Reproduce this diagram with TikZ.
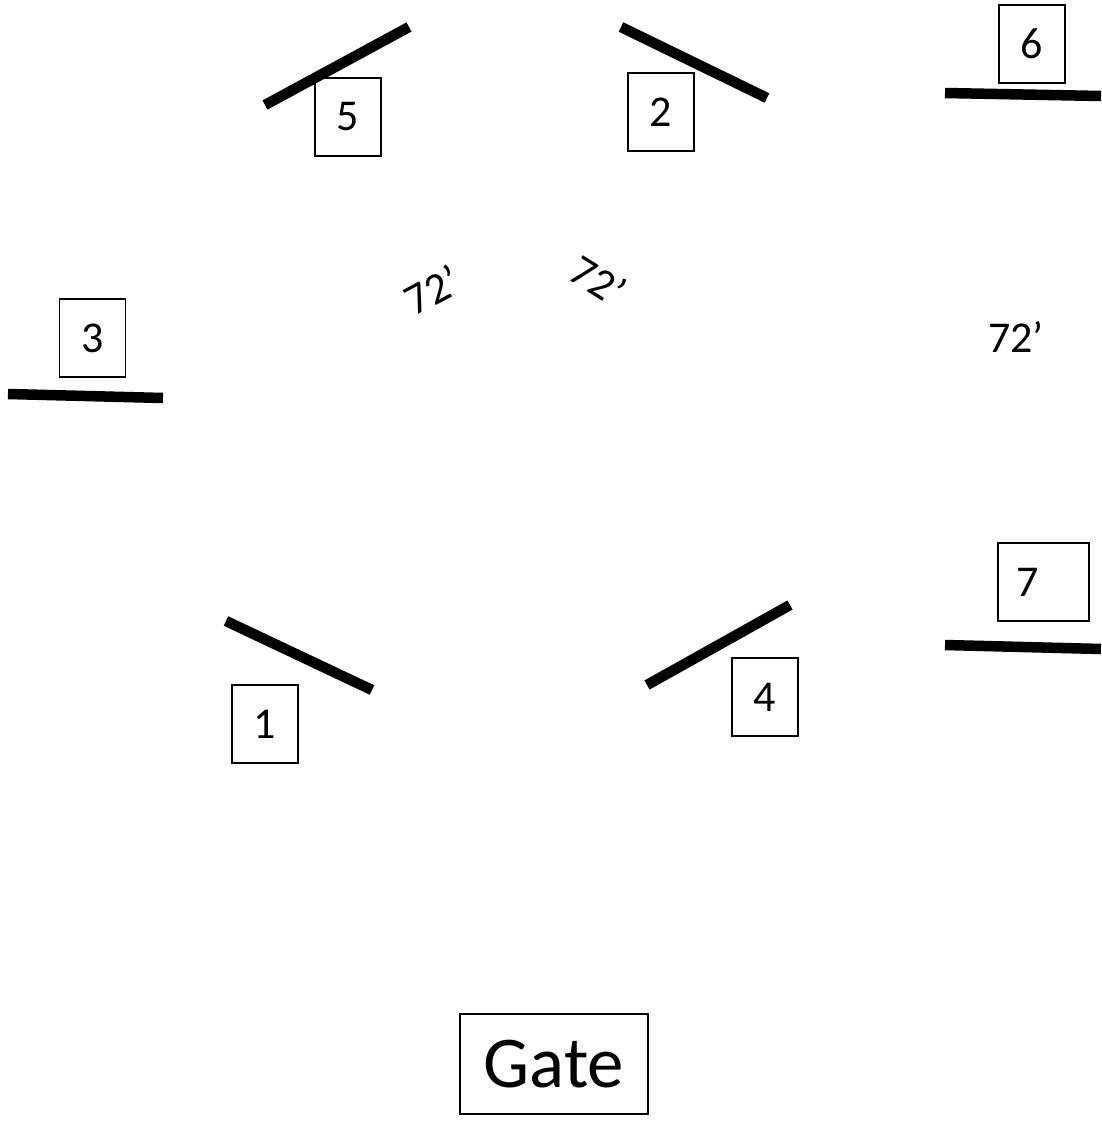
\documentclass[tikz,border=0pt]{standalone}
\usepackage{fontspec}
\setmainfont{Carlito}
\begin{document}
\begin{tikzpicture}[x=1pt,y=-1pt,
  numbox/.style={draw=black,line width=1.3pt,minimum width=66pt,minimum height=78pt,inner sep=0pt,font=\fontsize{44}{50}\selectfont},
  bar/.style={line width=10.5pt,black},
  dist/.style={font=\fontsize{44}{50}\selectfont,inner sep=0pt}]
\useasboundingbox (0,0) rectangle (1101,1124);
% boxes
\node[numbox] (b5) at (348,117) {5};
\node[numbox] (b2) at (661,112) {2};
\node[numbox] (b6) at (1032,44) {6};
\node[numbox] (b3) at (92.5,338) {3};
\node[numbox] (b1) at (265,724) {1};
\node[numbox] (b4) at (765,697) {4};
\node[numbox,minimum width=91pt] (b7) at (1043.5,582) {7\hspace*{31pt}};
\node[draw=black,line width=1.3pt,minimum width=188pt,minimum height=100pt,inner sep=0pt,font=\fontsize{73}{80}\selectfont] (gate) at (554,1064) {Gate};
% bars
\draw[bar] (265,105) -- (409,27);
\draw[bar] (621,27) -- (767,98);
\draw[bar] (945,93) -- (1101,96);
\draw[bar] (8,394) -- (163,398);
\draw[bar] (226,621) -- (372,690);
\draw[bar] (647,685) -- (790,605);
\draw[bar] (945,645) -- (1101,649);
% distances
\node[dist,rotate=28] (d1) at (432,290) {72’};
\node[dist,rotate=-32] (d2) at (598,280) {72’};
\node[dist] (d3) at (1016,337) {72’};
\end{tikzpicture}
\end{document}
